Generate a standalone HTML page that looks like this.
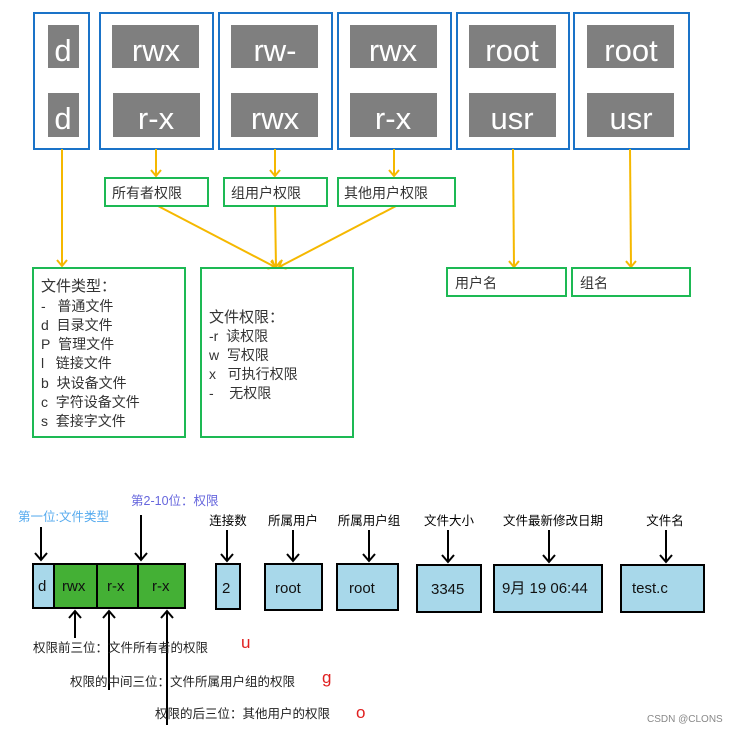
<!DOCTYPE html>
<html><head><meta charset="utf-8"><style>
html,body{margin:0;padding:0;background:#fff;}
svg{display:block;}
text{font-family:"Liberation Sans","Noto Sans CJK SC",sans-serif;}
</style></head><body>
<svg width="736" height="733" viewBox="0 0 736 733" xmlns="http://www.w3.org/2000/svg">
<defs>
<marker id="ya" markerWidth="12" markerHeight="12" refX="9" refY="6" orient="auto" markerUnits="userSpaceOnUse"><path d="M3,1 L9,6 L3,11" fill="none" stroke="#f5b800" stroke-width="2"/></marker>
<marker id="ba" markerWidth="14" markerHeight="14" refX="11" refY="7" orient="auto" markerUnits="userSpaceOnUse"><path d="M4,1 L11,7 L4,13" fill="none" stroke="#000" stroke-width="2"/></marker>
</defs>
<g fill="none" stroke="#1a73c8" stroke-width="2">
<rect x="34" y="13" width="55" height="136"/>
<rect x="100" y="13" width="113" height="136"/>
<rect x="219" y="13" width="113" height="136"/>
<rect x="338" y="13" width="113" height="136"/>
<rect x="457" y="13" width="112" height="136"/>
<rect x="574" y="13" width="115" height="136"/>
</g>
<g fill="#7f7f7f">
<rect x="48" y="25" width="31" height="43"/><rect x="48" y="93" width="31" height="44"/>
<rect x="112" y="25" width="87" height="43"/><rect x="113" y="93" width="87" height="44"/>
<rect x="231" y="25" width="87" height="43"/><rect x="231" y="93" width="87" height="44"/>
<rect x="350" y="25" width="87" height="43"/><rect x="350" y="93" width="87" height="44"/>
<rect x="469" y="25" width="87" height="43"/><rect x="469" y="93" width="87" height="44"/>
<rect x="587" y="25" width="87" height="43"/><rect x="587" y="93" width="87" height="44"/>
</g>
<g fill="#fff" font-size="31" text-anchor="middle">
<text x="63" y="61">d</text><text x="63" y="129">d</text>
<text x="156" y="61">rwx</text><text x="156" y="129">r-x</text>
<text x="275" y="61">rw-</text><text x="275" y="129">rwx</text>
<text x="393" y="61">rwx</text><text x="393" y="129">r-x</text>
<text x="512" y="61">root</text><text x="512" y="129">usr</text>
<text x="631" y="61">root</text><text x="631" y="129">usr</text>
</g>
<g stroke="#f5b800" stroke-width="2" fill="none">
<line x1="62" y1="149" x2="62" y2="266" marker-end="url(#ya)"/>
<line x1="156" y1="149" x2="156" y2="176" marker-end="url(#ya)"/>
<line x1="275" y1="149" x2="275" y2="176" marker-end="url(#ya)"/>
<line x1="394" y1="149" x2="394" y2="176" marker-end="url(#ya)"/>
<line x1="513" y1="149" x2="514" y2="267" marker-end="url(#ya)"/>
<line x1="630" y1="149" x2="631" y2="267" marker-end="url(#ya)"/>
<line x1="158" y1="206" x2="275" y2="267" marker-end="url(#ya)"/>
<line x1="275" y1="206" x2="276" y2="267" marker-end="url(#ya)"/>
<line x1="396" y1="206" x2="279" y2="267" marker-end="url(#ya)"/>
</g>
<g fill="none" stroke="#1db954" stroke-width="2">
<rect x="105" y="178" width="103" height="28"/>
<rect x="224" y="178" width="103" height="28"/>
<rect x="338" y="178" width="117" height="28"/>
<rect x="33" y="268" width="152" height="169"/>
<rect x="201" y="268" width="152" height="169"/>
<rect x="447" y="268" width="119" height="28"/>
<rect x="572" y="268" width="118" height="28"/>
</g>
<g fill="#333" font-size="14">
<text x="112" y="198">所有者权限</text>
<text x="231" y="198">组用户权限</text>
<text x="344" y="198">其他用户权限</text>
<text x="455" y="288">用户名</text>
<text x="580" y="288">组名</text>
<text x="41" y="291" font-size="15">文件类型：</text>
<text x="41" y="311">-&#160;&#160;&#160;普通文件</text>
<text x="41" y="330">d&#160;&#160;目录文件</text>
<text x="41" y="349">P&#160;&#160;管理文件</text>
<text x="41" y="368">l&#160;&#160;&#160;链接文件</text>
<text x="41" y="388">b&#160;&#160;块设备文件</text>
<text x="41" y="407">c&#160;&#160;字符设备文件</text>
<text x="41" y="426">s&#160;&#160;套接字文件</text>
<text x="209" y="322" font-size="15">文件权限：</text>
<text x="209" y="341">-r&#160;&#160;读权限</text>
<text x="209" y="360">w&#160;&#160;写权限</text>
<text x="209" y="379">x&#160;&#160;&#160;可执行权限</text>
<text x="209" y="398">-&#160;&#160;&#160;&#160;无权限</text>
</g>
<text x="18" y="521" font-size="12.5" fill="#55aaee">第一位:文件类型</text>
<text x="131" y="505" font-size="12.5" fill="#6666dd">第2-10位：权限</text>
<g font-size="12.5" fill="#000" text-anchor="middle">
<text x="228" y="525">连接数</text>
<text x="293" y="525">所属用户</text>
<text x="369" y="525">所属用户组</text>
<text x="449" y="525">文件大小</text>
<text x="553" y="525">文件最新修改日期</text>
<text x="665" y="525">文件名</text>
</g>
<g stroke="#000" stroke-width="2" fill="none">
<line x1="41" y1="527" x2="41" y2="560" marker-end="url(#ba)"/>
<line x1="141" y1="515" x2="141" y2="560" marker-end="url(#ba)"/>
<line x1="227" y1="530" x2="227" y2="561" marker-end="url(#ba)"/>
<line x1="293" y1="530" x2="293" y2="561" marker-end="url(#ba)"/>
<line x1="369" y1="530" x2="369" y2="561" marker-end="url(#ba)"/>
<line x1="448" y1="530" x2="448" y2="562" marker-end="url(#ba)"/>
<line x1="549" y1="530" x2="549" y2="562" marker-end="url(#ba)"/>
<line x1="666" y1="530" x2="666" y2="562" marker-end="url(#ba)"/>
<line x1="75" y1="638" x2="75" y2="611" marker-end="url(#ba)"/>
<line x1="109" y1="690" x2="109" y2="611" marker-end="url(#ba)"/>
<line x1="167" y1="725" x2="167" y2="611" marker-end="url(#ba)"/>
</g>
<g stroke="#000" stroke-width="2">
<rect x="33" y="564" width="21" height="44" fill="#a8d8ea"/>
<rect x="54" y="564" width="43" height="44" fill="#44b035"/>
<rect x="97" y="564" width="41" height="44" fill="#44b035"/>
<rect x="138" y="564" width="47" height="44" fill="#44b035"/>
<rect x="216" y="564" width="24" height="45" fill="#a8d8ea"/>
<rect x="265" y="564" width="57" height="46" fill="#a8d8ea"/>
<rect x="337" y="564" width="61" height="46" fill="#a8d8ea"/>
<rect x="417" y="565" width="64" height="47" fill="#a8d8ea"/>
<rect x="494" y="565" width="108" height="47" fill="#a8d8ea"/>
<rect x="621" y="565" width="83" height="47" fill="#a8d8ea"/>
</g>
<g font-size="15" fill="#111">
<text x="38" y="591">d</text>
<text x="62" y="591">rwx</text>
<text x="107" y="591">r-x</text>
<text x="152" y="591">r-x</text>
<text x="222" y="593">2</text>
<text x="275" y="593">root</text>
<text x="349" y="593">root</text>
<text x="431" y="594">3345</text>
<text x="502" y="593">9月 19 06:44</text>
<text x="632" y="593">test.c</text>
</g>
<g font-size="12.5" fill="#222">
<text x="33" y="652">权限前三位：文件所有者的权限</text>
<text x="70" y="686">权限的中间三位：文件所属用户组的权限</text>
<text x="155" y="718">权限的后三位：其他用户的权限</text>
</g>
<g font-size="17" fill="#e02020">
<text x="241" y="648">u</text>
<text x="322" y="683">g</text>
<text x="356" y="718">o</text>
</g>
<text x="647" y="722" font-size="10" fill="#888">CSDN @CLONS</text>
</svg>
</body></html>
